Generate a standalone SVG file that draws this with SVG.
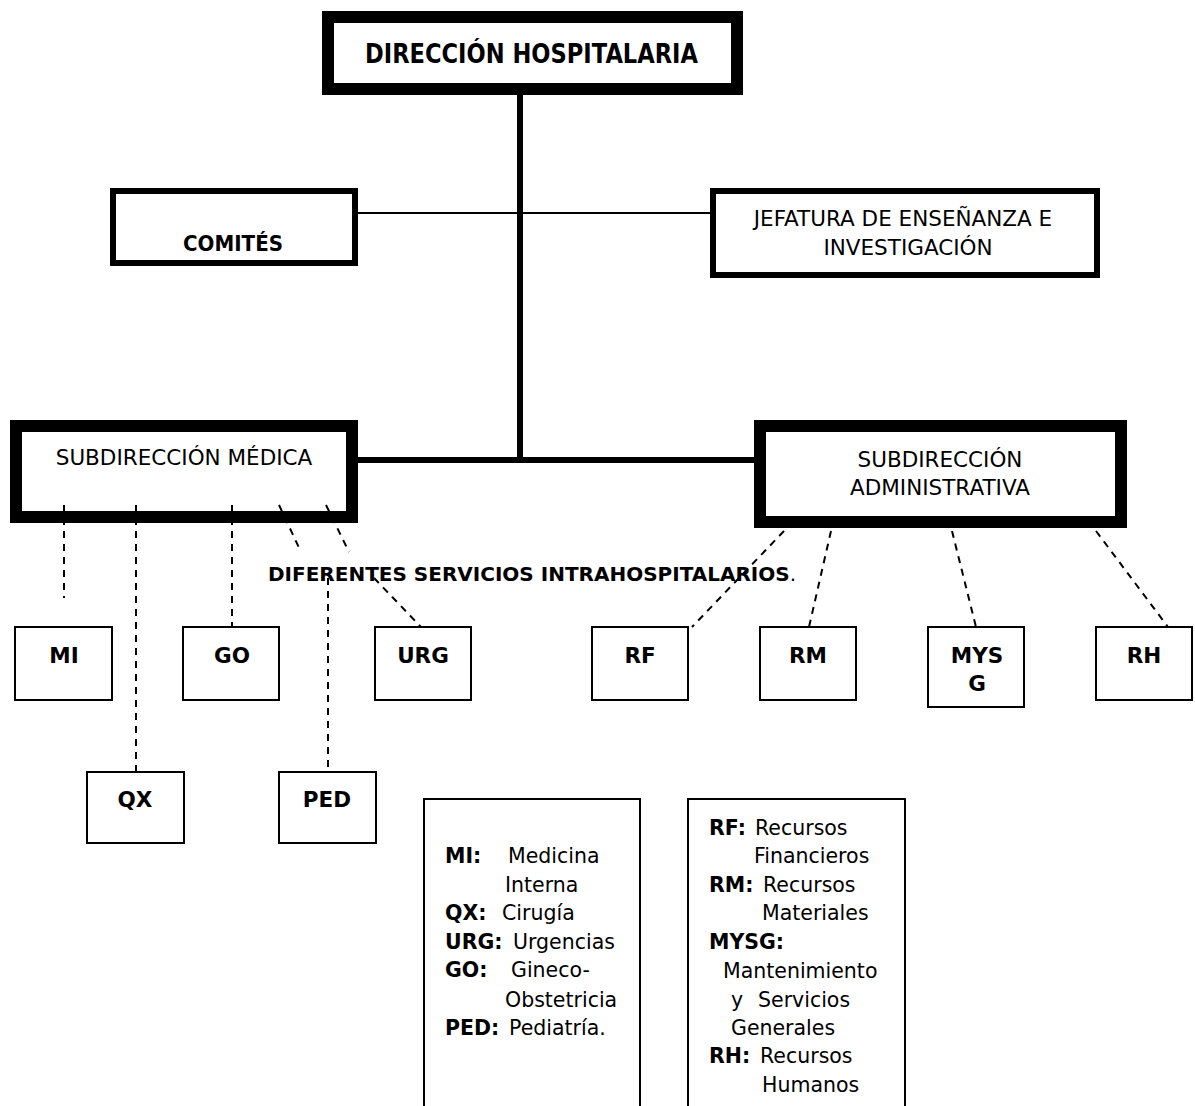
<svg xmlns="http://www.w3.org/2000/svg" width="1195" height="1106" viewBox="0 0 1195 1106">
<style>
text{font-family:"DejaVu Sans",Verdana,sans-serif;fill:#000}
.b{font-weight:bold}
.h{font-size:21.5px}
.s{font-size:21.5px;font-weight:bold}
.l{font-size:20.5px}
.k12{fill:#fff;stroke:#000;stroke-width:12}
.k6{fill:#fff;stroke:#000;stroke-width:6}
.k2{fill:#fff;stroke:#000;stroke-width:2}
.solid{stroke:#000;fill:none}
.dash{stroke:#000;stroke-width:2;stroke-dasharray:7 6;fill:none}
</style>
<rect width="1195" height="1106" fill="#fff"/>
<g id="direccion">
<rect class="k12" x="328" y="17" width="409" height="72"/>
<text class="b" x="365" y="63" font-size="26" textLength="333" lengthAdjust="spacingAndGlyphs">DIRECCIÓN HOSPITALARIA</text>
</g>
<g id="comites">
<rect class="k6" x="113" y="191" width="242" height="72"/>
<text class="b" x="183" y="251" font-size="21.5" textLength="100" lengthAdjust="spacingAndGlyphs">COMITÉS</text>
</g>
<g id="jefatura">
<rect class="k6" x="713" y="191" width="384" height="84"/>
<text class="h" x="903" y="226" text-anchor="middle">JEFATURA DE ENSEÑANZA E</text>
<text class="h" x="908" y="255" text-anchor="middle">INVESTIGACIÓN</text>
</g>
<g id="sub-medica">
<rect class="k12" x="16" y="426" width="336" height="91"/>
<text class="h" x="184" y="465" text-anchor="middle">SUBDIRECCIÓN MÉDICA</text>
</g>
<g id="sub-admin">
<rect class="k12" x="760" y="426" width="361" height="96"/>
<text class="h" x="940" y="467" text-anchor="middle">SUBDIRECCIÓN</text>
<text class="h" x="940" y="495" text-anchor="middle">ADMINISTRATIVA</text>
</g>
<g id="mi"><rect class="k2" x="15" y="627" width="97" height="73"/><text class="s" x="64" y="663" text-anchor="middle">MI</text></g>
<g id="go"><rect class="k2" x="183" y="627" width="96" height="73"/><text class="s" x="232" y="663" text-anchor="middle">GO</text></g>
<g id="urg"><rect class="k2" x="375" y="627" width="96" height="73"/><text class="s" x="423" y="663" text-anchor="middle">URG</text></g>
<g id="qx"><rect class="k2" x="87" y="772" width="97" height="71"/><text class="s" x="135" y="807" text-anchor="middle">QX</text></g>
<g id="ped"><rect class="k2" x="279" y="772" width="97" height="71"/><text class="s" x="327" y="807" text-anchor="middle">PED</text></g>
<g id="rf"><rect class="k2" x="592" y="627" width="96" height="73"/><text class="s" x="640" y="663" text-anchor="middle">RF</text></g>
<g id="rm"><rect class="k2" x="760" y="627" width="96" height="73"/><text class="s" x="808" y="663" text-anchor="middle">RM</text></g>
<g id="mysg"><rect class="k2" x="928" y="627" width="96" height="80"/><text class="s" x="977" y="663" text-anchor="middle">MYS</text><text class="s" x="977" y="691" text-anchor="middle">G</text></g>
<g id="rh"><rect class="k2" x="1096" y="627" width="96" height="73"/><text class="s" x="1144" y="663" text-anchor="middle">RH</text></g>
<g id="label-servicios">
<text x="268" y="581" font-size="20"><tspan class="b">DIFERENTES SERVICIOS INTRAHOSPITALARIOS</tspan>.</text>
</g>
<g id="leyenda-medica">
<rect class="k2" x="424" y="799" width="216" height="320"/>
<text class="l"><tspan class="b" x="445" y="863">MI:</tspan><tspan x="508" y="863">Medicina</tspan><tspan x="505" y="892">Interna</tspan><tspan class="b" x="445" y="920">QX:</tspan><tspan x="502" y="920">Cirugía</tspan><tspan class="b" x="445" y="949">URG:</tspan><tspan x="513" y="949">Urgencias</tspan><tspan class="b" x="445" y="977">GO:</tspan><tspan x="511" y="977">Gineco-</tspan><tspan x="505" y="1007">Obstetricia</tspan><tspan class="b" x="445" y="1035">PED:</tspan><tspan x="509" y="1035">Pediatría.</tspan></text>
</g>
<g id="leyenda-admin">
<rect class="k2" x="688" y="799" width="217" height="320"/>
<text class="l"><tspan class="b" x="709" y="835">RF:</tspan><tspan x="755" y="835">Recursos</tspan><tspan x="754" y="863">Financieros</tspan><tspan class="b" x="709" y="892">RM:</tspan><tspan x="763" y="892">Recursos</tspan><tspan x="762" y="920">Materiales</tspan><tspan class="b" x="709" y="949">MYSG:</tspan><tspan x="723" y="978">Mantenimiento</tspan><tspan x="731" y="1007">y</tspan><tspan x="758" y="1007">Servicios</tspan><tspan x="731" y="1035">Generales</tspan><tspan class="b" x="709" y="1063">RH:</tspan><tspan x="760" y="1063">Recursos</tspan><tspan x="762" y="1092">Humanos</tspan></text>
</g>
<g id="connectors">
<line class="solid" x1="520" y1="95" x2="520" y2="462" stroke-width="6"/>
<line class="solid" x1="358" y1="213" x2="710" y2="213" stroke-width="2"/>
<line class="solid" x1="358" y1="460" x2="754" y2="460" stroke-width="6"/>
<line class="dash" x1="64" y1="505" x2="64" y2="598"/>
<line class="dash" x1="136" y1="505" x2="136" y2="772"/>
<line class="dash" x1="232" y1="505" x2="232" y2="627"/>
<line class="dash" x1="279" y1="505" x2="301" y2="552"/>
<line class="dash" x1="328" y1="578" x2="328" y2="772"/>
<line class="dash" x1="326" y1="505" x2="349" y2="552"/>
<line class="dash" x1="374" y1="578" x2="421" y2="627"/>
<line class="dash" x1="784" y1="531" x2="692" y2="627"/>
<line class="dash" x1="831" y1="531" x2="809" y2="627"/>
<line class="dash" x1="952" y1="531" x2="976" y2="627"/>
<line class="dash" x1="1096" y1="531" x2="1168" y2="627"/>
</g>
</svg>
